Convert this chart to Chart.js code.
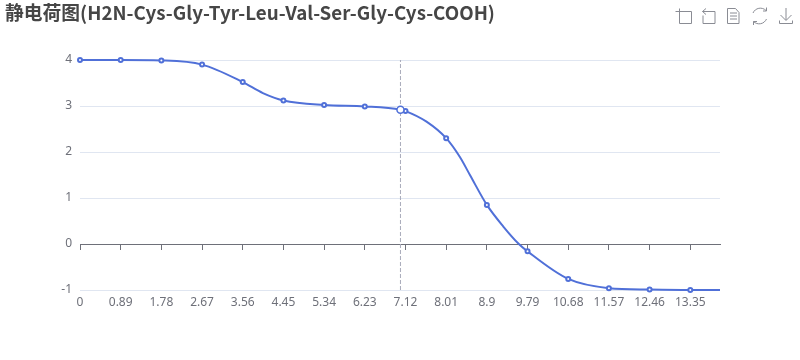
<!DOCTYPE html>
<html>
<head>
<meta charset="utf-8">
<script src="https://cdn.jsdelivr.net/npm/chart.js@4"></script>
<style>
  html, body { margin: 0; padding: 0; background: #fff; }
  #box { position: relative; width: 800px; height: 360px; }
  #icons { position: absolute; left: 0; top: 0; }
</style>
</head>
<body>
<div id="box">
  <canvas id="chart" width="800" height="360"></canvas>
  <svg id="icons" width="800" height="40" fill="none" stroke="#8A8C94" stroke-width="1">
    <path d="M675.5 11.500h16v12h-12v-15"/>
    <path d="M706 8.500l-3.500 3 3.500 3M702.500 11.500h12.500v12h-12v-8"/>
    <path d="M727.500 8.500h8l3.500 4v11h-11.500zM730 13h7M730 16h7M730 19h7"/>
    <path d="M753 13a8 8 0 0 1 13-2.500M766.500 19a8 8 0 0 1-13 2.500M766.500 7.500v3.500h-3.500M753.500 25v-3.500h3.500"/>
    <path d="M786 8v12M780.500 15l5.500 5.500 5.500-5.500M779.500 20.500v3h13v-3"/>
  </svg>
</div>
<script>
const tickValues = [0, 0.89, 1.78, 2.67, 3.56, 4.45, 5.34, 6.23, 7.12, 8.01, 8.9, 9.79, 10.68, 11.57, 12.46, 13.35];
const yTicks = [-1, 0, 1, 2, 3, 4];

// charge, with the symbol points first
const markedPh = [0, 0.89, 1.78, 2.67, 3.56, 4.45, 5.34, 6.23, 7.12, 8.01, 8.9, 9.79, 10.68, 11.57, 12.46, 13.35];
const markedCharge = [4, 4, 3.99, 3.9, 3.52, 3.12, 3.02, 2.99, 2.89, 2.3, 0.85, -0.16, -0.76, -0.96, -0.99, -1];
const extraPh = [4, 7.01, 7.58, 8.31, 8.53, 9.26, 9.6, 14];
const extraCharge = [3.28, 2.92, 2.66, 1.89, 1.5, 0.38, 0, -1];

const hoverPh = 7.01;
const hoverCharge = 2.92;

const textColor = "#6E7079";
const gridColor = "#E0E6F1";
const lineColor = "#5070D8";

const merge = (xs, ys) => xs.map((x, i) => ({ x: x, y: ys[i] }));
const curve = merge(markedPh, markedCharge).concat(merge(extraPh, extraCharge)).sort((a, b) => a.x - b.x);

new Chart("chart", {
  type: "line",
  data: {
    datasets: [
      {
        data: curve,
        borderColor: lineColor,
        borderWidth: 2,
        cubicInterpolationMode: "monotone",
        backgroundColor: "#fff",
        pointBackgroundColor: "#fff",
        pointBorderColor: lineColor,
        pointBorderWidth: 2,
        pointRadius: ctx => markedPh.includes(curve[ctx.dataIndex].x) ? 2 : 0,
        clip: false,
        order: 2
      },
      {
        data: [{ x: hoverPh, y: -1 }, { x: hoverPh, y: 4 }],
        borderColor: "#A9ABBA",
        borderWidth: 1,
        borderDash: [4, 2],
        pointRadius: 0,
        order: 3
      },
      {
        data: [{ x: hoverPh, y: hoverCharge }],
        showLine: false,
        pointBackgroundColor: "#fff",
        pointBorderColor: lineColor,
        pointBorderWidth: 1.5,
        pointRadius: 3.5,
        order: 1
      }
    ]
  },
  options: {
    responsive: false,
    animation: false,
    events: [],
    layout: { padding: { left: 5, right: 80, top: 0, bottom: 0 } },
    plugins: {
      legend: { display: false },
      tooltip: { enabled: false },
      title: {
        display: true,
        text: "静电荷图(H2N-Cys-Gly-Tyr-Leu-Val-Ser-Gly-Cys-COOH)",
        align: "start",
        color: "#464646",
        font: { family: "'Noto Sans CJK SC', 'Noto Sans'", size: 18.8, weight: "bold", lineHeight: 1 },
        padding: { top: 3, bottom: 38.2 }
      }
    },
    scales: {
      x: {
        type: "linear",
        position: "bottom",
        min: 0,
        max: 14,
        afterBuildTicks: axis => { axis.ticks = tickValues.map(v => ({ value: v })); },
        afterFit: axis => { axis.height = 70; },
        border: { display: false },
        grid: { display: false, drawTicks: false },
        ticks: {
          color: textColor,
          padding: 5,
          maxRotation: 0,
          autoSkip: false,
          font: { family: "'Noto Sans'", size: 12 },
          callback: v => String(v)
        }
      },
      zero: {
        type: "linear",
        axis: "x",
        position: { y: 0 },
        min: 0,
        max: 14,
        afterBuildTicks: axis => { axis.ticks = tickValues.map(v => ({ value: v })); },
        border: { display: true, color: textColor, width: 1 },
        grid: { drawOnChartArea: false, drawTicks: true, tickLength: 5, color: textColor },
        ticks: { display: false, autoSkip: false }
      },
      y: {
        min: -1,
        max: 4,
        afterBuildTicks: axis => { axis.ticks = yTicks.map(v => ({ value: v })); },
        afterFit: axis => { axis.width = 75; },
        border: { display: false },
        grid: { color: gridColor, drawTicks: false },
        ticks: {
          color: textColor,
          padding: 8,
          font: { family: "'Noto Sans'", size: 12 }
        }
      }
    }
  }
});
</script>
</body>
</html>
